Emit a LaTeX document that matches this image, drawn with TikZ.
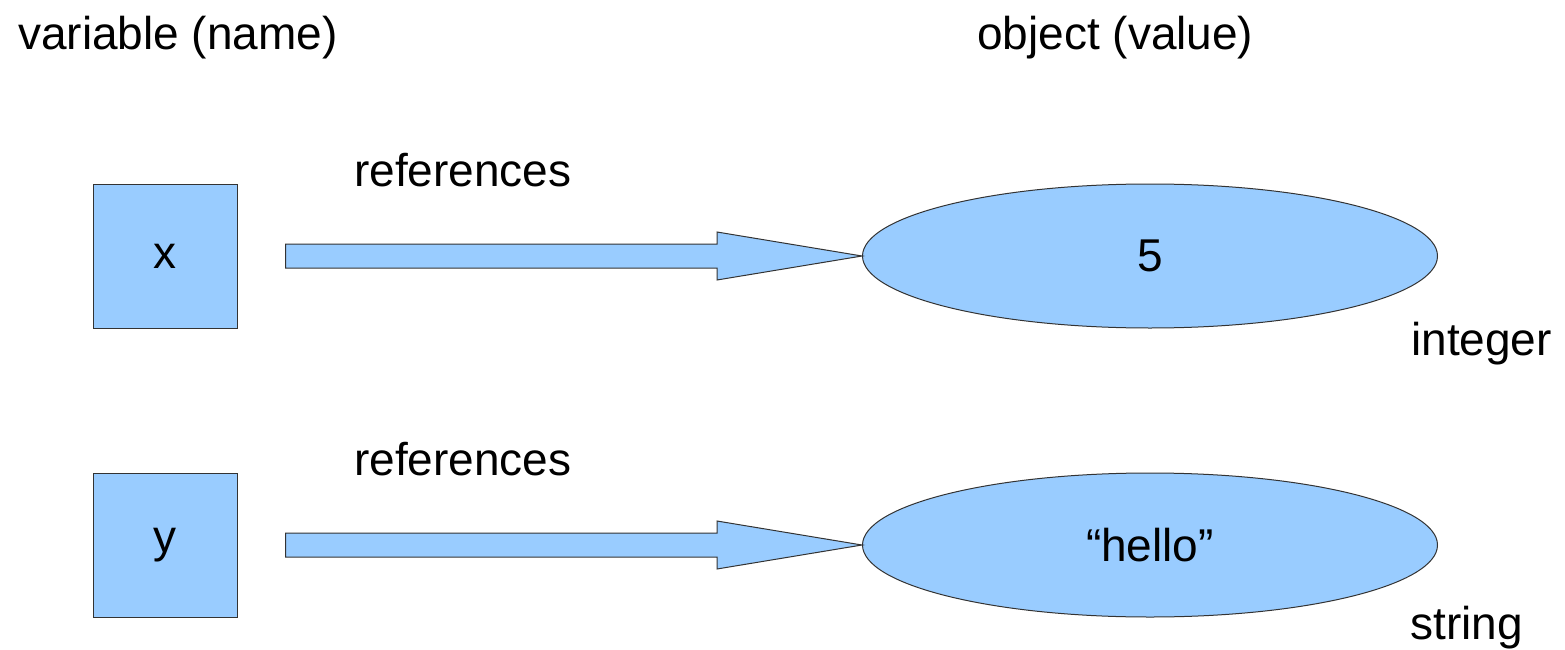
\documentclass[tikz,border=0pt]{standalone}
\usepackage{fontspec}
\setmainfont{Liberation Sans}
\usetikzlibrary{shapes.geometric,calc}
\definecolor{fillblue}{HTML}{99CCFF}
\definecolor{edge}{HTML}{333333}
\tikzset{
  varbox/.style={draw=edge, line width=1pt, fill=fillblue, minimum width=144pt, minimum height=144pt, inner sep=0pt},
  objell/.style={ellipse, draw=edge, line width=1pt, fill=fillblue, minimum width=575pt, minimum height=144pt, inner sep=0pt},
  lbl/.style={anchor=base west, inner sep=0pt},
  blockarrow/.style={draw=edge, line width=1pt, fill=fillblue, line join=miter}
}
\begin{document}
\begin{tikzpicture}[x=1pt,y=-1pt,font=\fontsize{46}{55}\selectfont]
\useasboundingbox (0,0) rectangle (1565,650);
% headers
\node[lbl] (hvar) at (18,50) {variable (name)};
\node[lbl] (hobj) at (977,50) {object (value)};
% variables
\node[varbox] (x) at (165,256) {x};
\node[varbox] (y) at (165,545) {y};
% objects
\node[objell] (v5) at (1150,256) {5};
\node[objell] (vh) at (1150,545) {“hello”};
% labels
\node[lbl] (r1) at (354,186) {references};
\node[lbl] (r2) at (354,475) {references};
\node[lbl] (tint) at (1411,355) {integer};
\node[lbl] (tstr) at (1410,639) {string};
% block arrows
\foreach \s/\t in {x/v5, y/vh}{
  \draw[blockarrow]
    let \p1=($(\s.east)+(48,0)$), \p2=(\t.west) in
    (\x1,\y1+12) -- (717,\y1+12) -- (717,\y1+24) -- (\x2,\y2)
    -- (717,\y1-24) -- (717,\y1-12) -- (\x1,\y1-12) -- cycle;
}
\end{tikzpicture}
\end{document}
